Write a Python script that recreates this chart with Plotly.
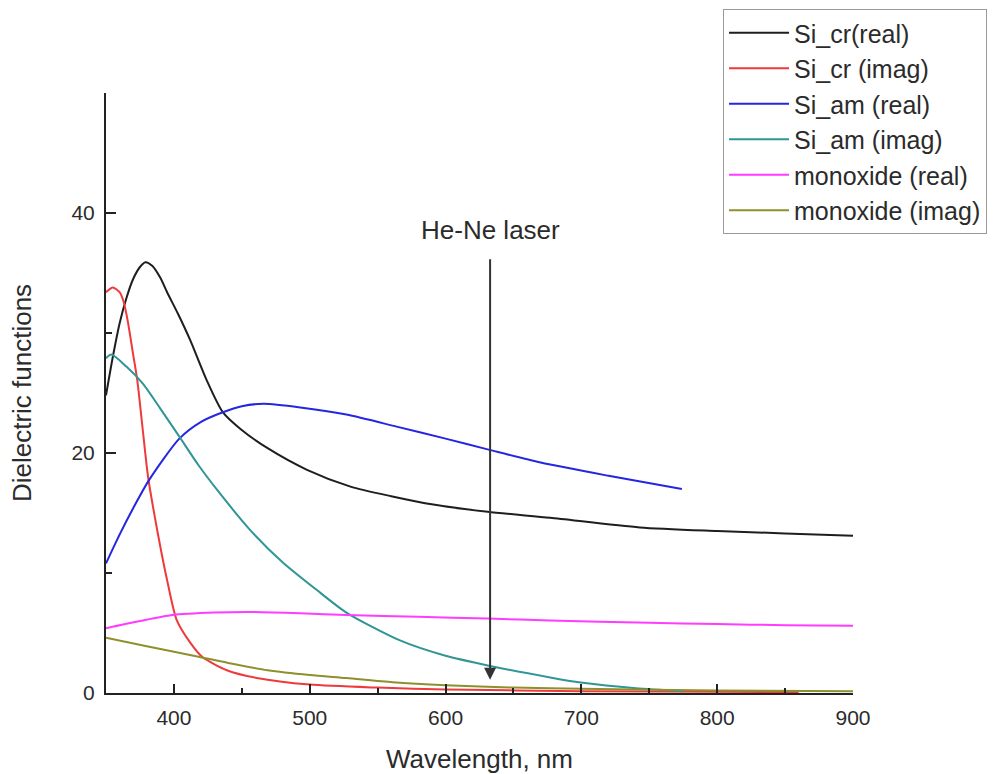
import plotly.graph_objects as go

# Dielectric functions of crystalline / amorphous silicon and silicon monoxide
wl_si_cr_real = [350, 355, 360, 365, 370, 375, 379, 384, 390, 395, 403, 412, 424, 436, 449,
                 469, 498, 530, 560, 591, 631, 677, 743, 800, 850, 900]
si_cr_real = [24.8, 28.0, 30.8, 32.9, 34.5, 35.5, 35.9, 35.6, 34.6, 33.4, 31.6, 29.4, 26.1, 23.4,
              22.0, 20.4, 18.6, 17.2, 16.4, 15.7, 15.1, 14.6, 13.8, 13.5, 13.3, 13.1]

wl_si_cr_imag = [350, 355, 360, 363, 366, 370, 373, 377, 381, 388, 395, 402, 412, 421, 439,
                 461, 500, 550, 600, 700, 800, 860]
si_cr_imag = [33.4, 33.8, 33.4, 32.6, 31.0, 28.2, 26.1, 22.0, 18.0, 13.4, 9.4, 6.1, 4.2, 3.0, 1.9,
              1.25, 0.7, 0.45, 0.3, 0.15, 0.1, 0.08]

wl_si_am_real = [350, 360, 370, 382, 404, 420, 436, 450, 466, 493, 527, 564, 600, 631, 670, 720, 774]
si_am_real = [10.8, 13.2, 15.4, 17.8, 21.2, 22.6, 23.4, 23.9, 24.1, 23.8, 23.2, 22.2, 21.2, 20.3,
              19.2, 18.1, 17.0]

wl_si_am_imag = [350, 354, 365, 377, 390, 405, 418, 432, 456, 480, 505, 527, 566, 600, 631,
                 677, 701, 740, 775]
si_am_imag = [27.9, 28.2, 27.2, 25.8, 23.7, 21.2, 19.0, 16.9, 13.6, 10.9, 8.6, 6.7, 4.4, 3.1, 2.3,
              1.3, 0.85, 0.4, 0.15]

wl_mono_real = [350, 375, 399, 430, 456, 493, 527, 580, 631, 677, 750, 800, 850, 900]
mono_real = [5.4, 6.0, 6.5, 6.7, 6.75, 6.65, 6.5, 6.35, 6.2, 6.05, 5.85, 5.75, 5.65, 5.6]

wl_mono_imag = [350, 380, 419, 440, 469, 500, 527, 561, 600, 650, 700, 800, 900]
mono_imag = [4.6, 3.9, 3.0, 2.5, 1.9, 1.5, 1.25, 0.9, 0.65, 0.45, 0.35, 0.2, 0.15]

series = [
    ("Si_cr(real)", wl_si_cr_real, si_cr_real, "#1e1e1e"),
    ("Si_cr (imag)", wl_si_cr_imag, si_cr_imag, "#ee3a3a"),
    ("Si_am (real)", wl_si_am_real, si_am_real, "#2626e0"),
    ("Si_am (imag)", wl_si_am_imag, si_am_imag, "#2f9595"),
    ("monoxide (real)", wl_mono_real, mono_real, "#ff3cff"),
    ("monoxide (imag)", wl_mono_imag, mono_imag, "#8f8f2c"),
]

x_ticks = [400, 500, 600, 700, 800, 900]
x_minor = [450, 550, 650, 750, 850]
y_ticks = [0, 20, 40]
y_minor = [10, 30, 50]

laser_nm = 632.8
laser_label = "He-Ne laser"

FONT = "Arial, Liberation Sans, sans-serif"
TEXT = "#2b2b2b"

fig = go.Figure()
for name, x, y, color in series:
    fig.add_trace(go.Scatter(
        x=x, y=y, name=name, mode="lines",
        line=dict(color=color, width=2, shape="spline", smoothing=0.7),
    ))

fig.add_annotation(
    x=laser_nm, y=1.1, ax=laser_nm, ay=38.6,
    xref="x", yref="y", axref="x", ayref="y",
    text=laser_label, showarrow=True,
    arrowhead=2, arrowsize=1.2, arrowwidth=2, arrowcolor="#333333",
    startstandoff=13,
    font=dict(family=FONT, size=26, color=TEXT),
)

fig.update_layout(
    width=993, height=774,
    margin=dict(l=106, r=140, t=93, b=81, autoexpand=False),
    paper_bgcolor="white", plot_bgcolor="white",
    font=dict(family=FONT, color=TEXT),
    showlegend=True,
    legend=dict(
        x=0.826, xanchor="left", y=1.14, yanchor="top",
        bordercolor="#9a9a9a", borderwidth=1, bgcolor="white",
        font=dict(family=FONT, size=25, color=TEXT),
        itemwidth=60,
    ),
)

fig.update_xaxes(
    range=[350, 900], showgrid=False, zeroline=False, automargin=False,
    showline=True, linecolor="#222222", linewidth=2,
    tickmode="array", tickvals=x_ticks,
    ticks="inside", ticklen=9, tickwidth=2, tickcolor="#222222",
    minor=dict(tickmode="array", tickvals=x_minor, ticks="inside", ticklen=5,
               tickwidth=2, tickcolor="#222222", showgrid=False),
    tickfont=dict(family=FONT, size=21, color=TEXT),
    ticklabelstandoff=5,
    title=dict(text="Wavelength, nm", font=dict(family=FONT, size=26, color=TEXT), standoff=23),
)

fig.update_yaxes(
    range=[0, 50], showgrid=False, zeroline=False, automargin=False,
    showline=True, linecolor="#222222", linewidth=2,
    tickmode="array", tickvals=y_ticks,
    ticks="inside", ticklen=10, tickwidth=2, tickcolor="#222222",
    minor=dict(tickmode="array", tickvals=y_minor, ticks="inside", ticklen=6,
               tickwidth=2, tickcolor="#222222", showgrid=False),
    tickfont=dict(family=FONT, size=21, color=TEXT),
    ticklabelstandoff=5,
    title=dict(text="Dielectric functions", font=dict(family=FONT, size=26, color=TEXT), standoff=32),
)

fig.write_html("out.html")
